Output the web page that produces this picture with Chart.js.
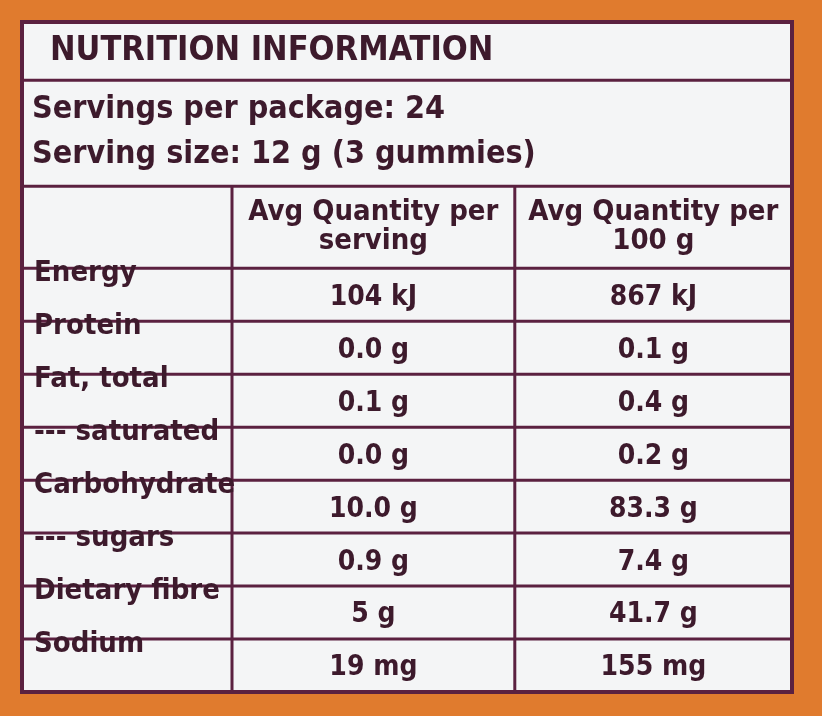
<!DOCTYPE html>
<html>
<head>
<meta charset="utf-8">
<script src="https://cdn.jsdelivr.net/npm/chart.js@4"></script>
<style>
  html, body { margin: 0; padding: 0; background: #e07b2e; }
  #wrap { width: 822px; height: 716px; }
</style>
</head>
<body>
<div id="wrap"><canvas id="label"></canvas></div>
<script>
// Data
const title = 'NUTRITION INFORMATION';
const servingLines = ['Servings per package: 24', 'Serving size: 12 g (3 gummies)'];
const headers = ['Avg Quantity per serving', 'Avg Quantity per 100 g'];
const nutrients = ['Energy', 'Protein', 'Fat, total', '--- saturated', 'Carbohydrate', '--- sugars', 'Dietary fibre', 'Sodium'];
const perServing = ['104 kJ', '0.0 g', '0.1 g', '0.0 g', '10.0 g', '0.9 g', '5 g', '19 mg'];
const per100g = ['867 kJ', '0.1 g', '0.4 g', '0.2 g', '83.3 g', '7.4 g', '41.7 g', '155 mg'];

// Row boundaries in row units (y scale), column boundaries (x scale)
const titleH = 1.1, servH = 2.0, headH = 1.55;
const dataTop = titleH + servH + headH;
const totalRows = dataTop + nutrients.length;
const colEdges = [0, 0.75, 1.76, 2.75];

const FONT = '"Liberation Sans Narrow", "DejaVu Sans Condensed", "Liberation Sans", sans-serif';
const INK = '#3d1a2c';
const LINE = '#5b2140';

const tablePlugin = {
    id: 'table',
    afterDraw(chart) {
        const ctx = chart.ctx;
        const xs = chart.scales.x, ys = chart.scales.y;
        const X = v => xs.getPixelForValue(v);
        const Y = v => ys.getPixelForValue(v);
        const left = X(colEdges[0]), right = X(colEdges[3]);

        // panel
        ctx.save();
        ctx.fillStyle = '#f4f5f6';
        ctx.fillRect(left, Y(0), right - left, Y(totalRows) - Y(0));
        ctx.strokeStyle = LINE;
        ctx.lineWidth = 4;
        ctx.strokeRect(left, Y(0), right - left, Y(totalRows) - Y(0));

        // horizontal lines
        ctx.lineWidth = 3;
        const hl = (v, x0, x1) => { ctx.beginPath(); ctx.moveTo(x0, Y(v)); ctx.lineTo(x1, Y(v)); ctx.stroke(); };
        hl(titleH, left, right);
        hl(titleH + servH, left, right);
        for (let i = 0; i < nutrients.length; i++) hl(dataTop + i, left, right);
        // vertical lines
        [1, 2].forEach(c => {
            ctx.beginPath(); ctx.moveTo(X(colEdges[c]), Y(titleH + servH)); ctx.lineTo(X(colEdges[c]), Y(totalRows)); ctx.stroke();
        });

        ctx.fillStyle = INK;
        ctx.textBaseline = 'middle';
        // title
        ctx.font = 'bold 34px ' + FONT;
        ctx.textAlign = 'left';
        ctx.fillText(title, X(0.1), Y(titleH / 2));
        // servings
        ctx.font = 'bold 32px ' + FONT;
        servingLines.forEach((s, i) => ctx.fillText(s, left + 10, Y(titleH + 0.55 + i * 0.85)));
        // headers
        ctx.textAlign = 'center';
        ctx.font = 'bold 29px ' + FONT;
        headers.forEach((h, i) => {
            const cx = (X(colEdges[i + 1]) + X(colEdges[i + 2])) / 2;
            const parts = i === 0 ? ['Avg Quantity per', 'serving'] : ['Avg Quantity per', '100 g'];
            ctx.fillText(parts[0], cx, Y(titleH + servH + 0.5));
            ctx.fillText(parts[1], cx, Y(titleH + servH + 1.05));
        });
        // data rows
        nutrients.forEach((n, i) => {
            ctx.textAlign = 'left';
            ctx.font = 'bold 29px ' + FONT;
            ctx.fillText(n, left + 12, Y(dataTop + i + 0.1));
            ctx.textAlign = 'center';
            ctx.font = 'bold 28px ' + FONT;
            ctx.fillText(perServing[i], (X(colEdges[1]) + X(colEdges[2])) / 2, Y(dataTop + i + 0.55));
            ctx.fillText(per100g[i], (X(colEdges[2]) + X(colEdges[3])) / 2, Y(dataTop + i + 0.55));
        });
        ctx.restore();
    }
};

new Chart(document.getElementById('label'), {
    type: 'scatter',
    data: { datasets: [{ data: [] }] },
    options: {
        responsive: true,
        maintainAspectRatio: false,
        animation: false,
        layout: { padding: { left: 22, right: 30, top: 22, bottom: 24 } },
        plugins: { legend: { display: false }, tooltip: { enabled: false } },
        scales: {
            x: { type: 'linear', min: colEdges[0], max: colEdges[3], display: false },
            y: { type: 'linear', min: 0, max: totalRows, reverse: true, display: false }
        }
    },
    plugins: [tablePlugin]
});
</script>
</body>
</html>
